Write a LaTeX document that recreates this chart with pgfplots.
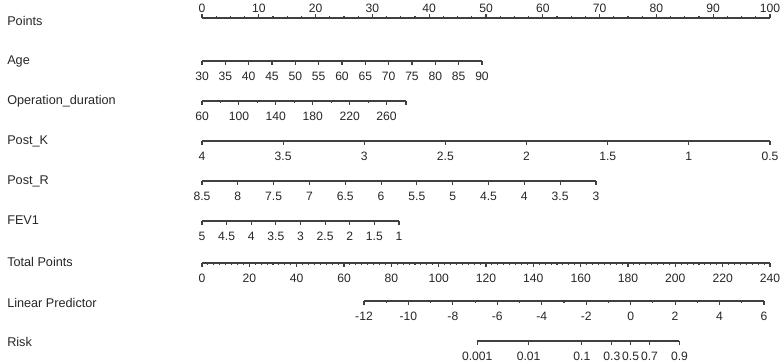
\documentclass[border=0pt]{standalone}
\usepackage{fontspec}
\setmainfont{Liberation Sans}
\usepackage{pgfplots}
\pgfplotsset{compat=1.18}

% one horizontal scale of the nomogram; the axis line is the scale
\pgfplotsset{
  scalebar/.style={
    scale only axis, height=10pt, ymin=0, ymax=1,
    hide y axis,
    axis x line*=bottom,
    anchor=south west,
    x axis line style={-, line width=0.8pt, color=black!75},
    every tick/.style={line width=0.8pt, color=black!75},
    tick align=outside,
    major tick length=3pt, minor tick length=1.6pt,
    xticklabel style={font=\fontsize{9.1}{10}\selectfont, text=black!85,
      inner sep=0pt},
    /pgf/number format/assume math mode=true,
    scaled x ticks=false,
    clip=false,
  },
  below labels/.style={xticklabel style={yshift=-5.2pt}},
  above labels/.style={xticklabel style={yshift=0.6pt}},
}
\tikzset{
  varname/.style={anchor=base west, inner sep=0pt,
    font=\fontsize{9.5}{11}\selectfont, text=black!85},
}

\begin{document}
\begin{tikzpicture}
\useasboundingbox (0,0) rectangle (586.5pt,-272.25pt);

% variable names
\node[varname] at (5.25pt,-19.1pt)  {Points};
\node[varname] at (5.25pt,-48.4pt)  {Age};
\node[varname] at (5.25pt,-78.4pt)  {Operation\_duration};
\node[varname] at (5.25pt,-108.75pt) {Post\_K};
\node[varname] at (5.25pt,-138.75pt) {Post\_R};
\node[varname] at (5.25pt,-168.75pt) {FEV1};
\node[varname] at (5.25pt,-200.25pt) {Total Points};
\node[varname] at (5.25pt,-230.6pt) {Linear Predictor};
\node[varname] at (5.25pt,-260.25pt) {Risk};

% Points (labels on top)
\begin{axis}[scalebar, above labels, axis x line*=top, anchor=north west,
  at={(151.5pt,-13.5pt)}, width=426pt,
  xmin=0, xmax=100, xtick={0,10,...,100}, minor x tick num=3]
  \addplot[draw=none] coordinates {(0,1) (100,1)};
\end{axis}

% Age
\begin{axis}[scalebar, below labels, at={(151.5pt,-45.75pt)}, width=210pt,
  xmin=30, xmax=90, xtick={30,35,...,90}]
  \addplot[draw=none] coordinates {(30,0) (90,0)};
\end{axis}

% Operation_duration
\begin{axis}[scalebar, below labels, at={(151.5pt,-75.75pt)}, width=153pt,
  xmin=60, xmax=281, xtick={60,100,140,180,220,260,281},
  xticklabels={60,100,140,180,220,260,{}},
  minor xtick={80,120,...,240}]
  \addplot[draw=none] coordinates {(60,0) (281,0)};
\end{axis}

% Post_K
\begin{axis}[scalebar, below labels, at={(151.5pt,-105.75pt)}, width=426pt,
  x dir=reverse, xmin=0.5, xmax=4,
  xtick={0.5,1,1.5,2,2.5,3,3.5,4},
  xticklabels={0.5,1,1.5,2,2.5,3,3.5,4}]
  \addplot[draw=none] coordinates {(4,0) (0.5,0)};
\end{axis}

% Post_R
\begin{axis}[scalebar, below labels, at={(151.5pt,-135.75pt)}, width=295.5pt,
  x dir=reverse, xmin=3, xmax=8.5,
  xtick={3,3.5,4,4.5,5,5.5,6,6.5,7,7.5,8,8.5},
  xticklabels={3,3.5,4,4.5,5,5.5,6,6.5,7,7.5,8,8.5}]
  \addplot[draw=none] coordinates {(8.5,0) (3,0)};
\end{axis}

% FEV1
\begin{axis}[scalebar, below labels, at={(151.5pt,-165.75pt)}, width=147.75pt,
  x dir=reverse, xmin=1, xmax=5,
  xtick={1,1.5,2,2.5,3,3.5,4,4.5,5},
  xticklabels={1,1.5,2,2.5,3,3.5,4,4.5,5}]
  \addplot[draw=none] coordinates {(5,0) (1,0)};
\end{axis}

% Total Points
\begin{axis}[scalebar, below labels, at={(151.5pt,-197.25pt)}, width=426pt,
  xmin=0, xmax=240, xtick={0,20,...,240}, minor x tick num=7]
  \addplot[draw=none] coordinates {(0,0) (240,0)};
\end{axis}

% Linear Predictor
\begin{axis}[scalebar, below labels, at={(273pt,-225.75pt)}, width=300pt,
  xmin=-12, xmax=6, xtick={-12,-10,...,6}, minor x tick num=1,
  xticklabels={-12,-10,-8,-6,-4,-2,0,2,4,6}]
  \addplot[draw=none] coordinates {(-12,0) (6,0)};
\end{axis}

% Risk, placed on the linear predictor (logit) scale
\begin{axis}[scalebar, below labels, at={(357.9pt,-255.75pt)}, width=151.7pt,
  xmin=-6.9068, xmax=2.1972,
  xtick={-6.9068,-4.5951,-2.1972,-0.8473,0,0.8473,2.1972},
  xticklabels={0.001,0.01,0.1,0.3,0.5,0.7,0.9}]
  \addplot[draw=none] coordinates {(-6.9068,0) (2.1972,0)};
\end{axis}
\end{tikzpicture}
\end{document}
